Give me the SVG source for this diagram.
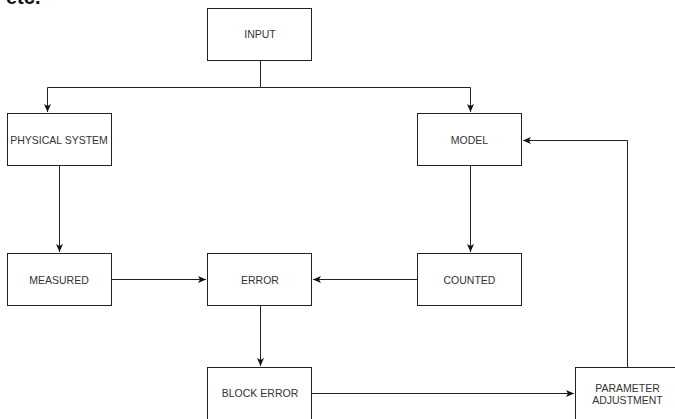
<svg xmlns="http://www.w3.org/2000/svg" width="675" height="419" viewBox="0 0 675 419">
<style>
.box{fill:#fff;stroke:#222;stroke-width:1}
.lbl{font-family:"Liberation Sans",Arial,sans-serif;font-size:10.5px;fill:#333;text-anchor:middle}
.ln{fill:none;stroke:#222;stroke-width:1}
</style>
<defs>
<marker id="arr" markerUnits="userSpaceOnUse" markerWidth="9" markerHeight="8" refX="8" refY="4" orient="auto">
<path d="M0,0.5 L8,4 L0,7.5 L2,4 Z" fill="#111"/>
</marker>
</defs>
<rect width="675" height="419" fill="#fff"/>
<text x="6" y="3.5" font-family="Liberation Sans,Arial,sans-serif" font-size="20" font-weight="bold" fill="#111">etc.</text>
<g id="connectors">
<path class="ln" d="M260.5,61 V87.5 H47.5 V112" marker-end="url(#arr)"/>
<path class="ln" d="M260.5,87.5 H470.5 V112" marker-end="url(#arr)"/>
<path class="ln" d="M59.5,166 V252" marker-end="url(#arr)"/>
<path class="ln" d="M470.5,166 V252" marker-end="url(#arr)"/>
<path class="ln" d="M111,279.5 H206" marker-end="url(#arr)"/>
<path class="ln" d="M417,279.5 H313" marker-end="url(#arr)"/>
<path class="ln" d="M260.5,306 V366" marker-end="url(#arr)"/>
<path class="ln" d="M312,393.5 H574" marker-end="url(#arr)"/>
<path class="ln" d="M627.5,367 V140.5 H523" marker-end="url(#arr)"/>
</g>
<g id="input"><rect class="box" x="207.5" y="8.5" width="104" height="52"/><text class="lbl" x="260" y="38">INPUT</text></g>
<g id="physical"><rect class="box" x="7.5" y="113.5" width="104" height="52"/><text class="lbl" x="59" y="143.5">PHYSICAL SYSTEM</text></g>
<g id="model"><rect class="box" x="417.5" y="113.5" width="104" height="52"/><text class="lbl" x="469.5" y="143.5">MODEL</text></g>
<g id="measured"><rect class="box" x="7.5" y="253.5" width="104" height="52"/><text class="lbl" x="59" y="283.5">MEASURED</text></g>
<g id="error"><rect class="box" x="207.5" y="253.5" width="104" height="52"/><text class="lbl" x="260" y="283.5">ERROR</text></g>
<g id="counted"><rect class="box" x="417.5" y="253.5" width="104" height="52"/><text class="lbl" x="469.5" y="283.5">COUNTED</text></g>
<g id="blockerror"><rect class="box" x="207.5" y="367.5" width="104" height="60"/><text class="lbl" x="260" y="397">BLOCK ERROR</text></g>
<g id="param"><rect class="box" x="575.5" y="367.5" width="104" height="60"/><text class="lbl" x="627.5" y="392">PARAMETER</text><text class="lbl" x="627.5" y="403.5">ADJUSTMENT</text></g>
</svg>
